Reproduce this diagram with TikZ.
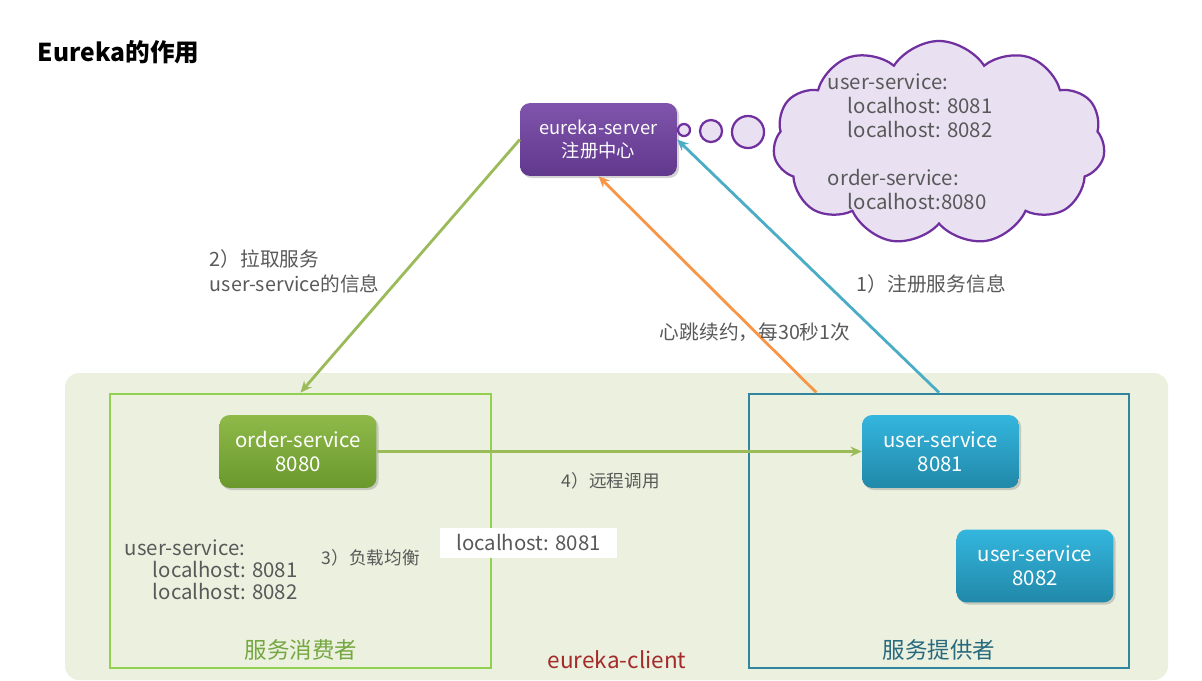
\documentclass[tikz,border=0pt]{standalone}
\usepackage{fontspec}
\setmainfont{Noto Sans CJK SC}
\usepackage{xcolor}
\usetikzlibrary{shapes.symbols,shadows,arrows.meta}
\definecolor{txtgray}{HTML}{595959}
\definecolor{cgreen}{HTML}{92D050}
\definecolor{agreen}{HTML}{9BBB59}
\definecolor{ablue}{HTML}{4BACC6}
\definecolor{aorange}{HTML}{F79646}
\definecolor{tealbox}{HTML}{31859C}
\definecolor{cpurple}{HTML}{7030A0}
\definecolor{lavender}{HTML}{E9E1F2}
\definecolor{bgreen}{HTML}{EBF0DF}
\definecolor{clientred}{HTML}{A52A2A}
\tikzstyle{service} = [rectangle, rounded corners=7pt, minimum width=3.92cm, minimum height=1.82cm, text=white, align=center, font=\fontsize{14.5}{17}\selectfont, drop shadow={opacity=0.35, shadow xshift=1.5pt, shadow yshift=-1.5pt}]
\tikzstyle{group} = [rectangle, draw, line width=2pt, minimum width=9.5cm, minimum height=6.85cm]
\tikzstyle{bubble} = [circle, draw=cpurple, line width=1.6pt, fill=lavender, inner sep=0pt]
\tikzstyle{label} = [text=txtgray, font=\fontsize{14}{17.7}\selectfont, align=left]
\tikzstyle{small label} = [label, font=\fontsize{12.5}{15}\selectfont]
\tikzstyle{flow} = [->, line width=2pt]

\begin{document}
\begin{tikzpicture}[x=0.025cm,y=-0.025cm,>={Stealth[length=8pt,width=7pt]}]
  \useasboundingbox (0,0) rectangle (1202,680);
  \node[anchor=west, font=\fontsize{17.5}{20}\selectfont\bfseries] (title) at (33,52) {Eureka的作用};

  % eureka-client area
  \fill[bgreen, rounded corners=10pt] (65,373) rectangle (1168,680);
  \node[group, draw=cgreen, minimum width=9.525cm] (consumer) at (300.5,531) {};
  \node[group, draw=tealbox] (provider) at (939,531) {};

  % server and its registry
  \node[service, font=\fontsize{13}{16}\selectfont, top color={rgb,255:red,128;green,84;blue,172}, bottom color={rgb,255:red,96;green,56;blue,140}] (eureka) at (598.5,139.5) {eureka-server\\注册中心};
  \node[bubble, minimum size=0.3cm] (b1) at (684,130) {};
  \node[bubble, minimum size=0.55cm] (b2) at (711,131) {};
  \node[bubble, minimum size=0.8cm] (b3) at (748,132) {};
  \node[cloud, cloud puffs=11, cloud puff arc=115, aspect=1.6, draw=cpurple, line width=1.6pt, fill=lavender, minimum width=8.3cm, minimum height=5.1cm] (registry) at (939,143) {};
  \node[label, anchor=north west, font=\fontsize{14.5}{17}\selectfont] (regtext) at (823,69) {user-service:\\\hspace*{0.5cm}localhost: 8081\\\hspace*{0.5cm}localhost: 8082\\[17pt]order-service:\\\hspace*{0.5cm}localhost:8080};

  % services
  \node[service, top color={rgb,255:red,143;green,186;blue,74}, bottom color={rgb,255:red,106;green,152;blue,44}] (order) at (298,451.5) {order-service\\8080};
  \node[service, top color={rgb,255:red,52;green,182;blue,222}, bottom color={rgb,255:red,33;green,136;blue,168}] (user1) at (940.5,451.5) {user-service\\8081};
  \node[service, top color={rgb,255:red,52;green,182;blue,222}, bottom color={rgb,255:red,33;green,136;blue,168}] (user2) at (1035,566) {user-service\\8082};
  \coordinate (beat) at ([xshift=1.72cm]provider.north west);

  \path (eureka.west) edge[flow, agreen] (consumer.north);
  \path (provider.north) edge[flow, ablue] (eureka.east);
  \path (beat) edge[flow, aorange] (eureka.south);
  \path (order.east) edge[flow, agreen] (user1.west);

  % labels
  \node[label, anchor=west] (pull) at (205,271) {2）拉取服务\\user-service的信息};
  \node[label, anchor=west] (reg) at (852,284) {1）注册服务信息};
  \node[label, anchor=west] (heart) at (655,332) {心跳续约，每30秒1次};
  \node[small label, anchor=west] (call) at (557,481) {4）远程调用};
  \node[small label, anchor=west] (lb) at (317,558) {3）负载均衡};
  \node[label, anchor=north west, font=\fontsize{14.5}{15.5}\selectfont] (cache) at (120,535) {user-service:\\\hspace*{0.7cm}localhost: 8081\\\hspace*{0.7cm}localhost: 8082};
  \node[fill=white, text=txtgray, font=\fontsize{14.5}{16}\selectfont, minimum width=4.425cm, minimum height=0.75cm] (chosen) at (528.5,543) {localhost: 8081};
  \node[text=cgreen!80!black, font=\fontsize{16}{18}\selectfont] (cname) at (301,650) {服务消费者};
  \node[text=tealbox!80!black, font=\fontsize{16}{18}\selectfont] (pname) at (939,650) {服务提供者};
  \node[text=clientred, font=\fontsize{16}{18}\selectfont] (client) at (617,660) {eureka-client};
\end{tikzpicture}
\end{document}
